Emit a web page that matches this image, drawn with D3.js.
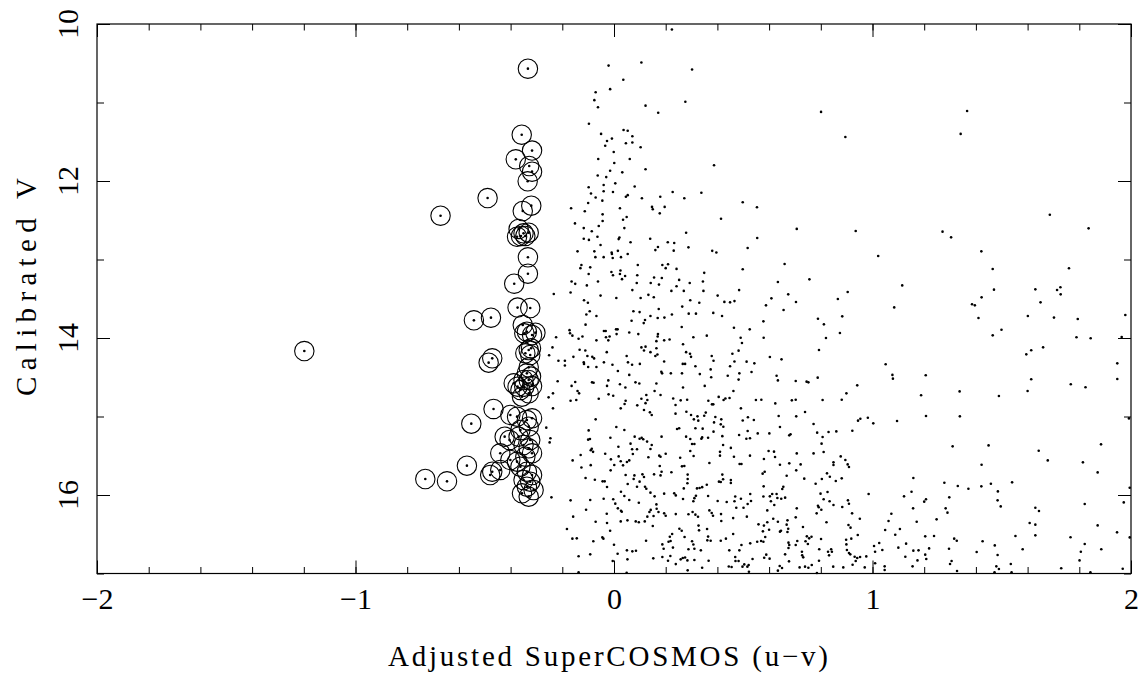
<!DOCTYPE html>
<html>
<head>
<meta charset="utf-8">
<script src="https://cdn.jsdelivr.net/npm/d3@7"></script>
<style>
  body { margin: 0; background: #fff; }
  text { font-family: "Liberation Serif", "DejaVu Serif", serif; fill: #000; }
</style>
</head>
<body>
<script>
// circled stars (blue excess candidates)
const circled = [
  [-0.333,10.569],[-0.357,11.41],[-0.317,11.613],[-0.38,11.724],[-0.328,11.809],[-0.317,11.881],[-0.334,12.004],
  [-0.489,12.217],[-0.671,12.442],[-0.32,12.314],[-0.353,12.382],[-0.369,12.611],[-0.36,12.7],[-0.343,12.7],
  [-0.35,12.667],[-0.33,12.658],[-0.375,12.71],[-0.333,12.972],[-0.333,13.181],[-0.386,13.308],
  [-0.373,13.613],[-0.324,13.618],[-0.542,13.775],[-0.476,13.741],[-0.353,13.834],[-0.347,13.94],[-0.337,13.92],
  [-0.317,13.962],[-0.304,13.932],[-0.33,14.153],[-0.324,14.216],[-0.343,14.195],[-0.321,14.131],
  [-0.471,14.259],[-0.485,14.314],[-0.33,14.374],[-0.337,14.45],[-0.321,14.492],[-0.35,14.535],[-0.33,14.535],
  [-0.388,14.577],[-0.373,14.62],[-0.347,14.62],[-0.317,14.612],[-0.362,14.662],[-0.33,14.705],[-0.356,14.747],
  [-0.466,14.904],[-0.552,15.091],[-0.401,14.98],[-0.375,15.002],[-0.337,15.045],[-0.317,15.023],[-0.33,15.129],
  [-0.362,15.172],[-0.423,15.257],[-0.404,15.299],[-0.369,15.257],[-0.324,15.299],[-0.35,15.363],[-0.33,15.405],
  [-0.44,15.469],[-0.401,15.554],[-0.375,15.575],[-0.343,15.512],[-0.317,15.469],[-0.569,15.626],
  [-0.471,15.703],[-0.479,15.745],[-0.44,15.681],[-0.73,15.796],[-0.646,15.826],
  [-0.362,15.639],[-0.337,15.703],[-0.317,15.745],[-0.35,15.809],[-0.324,15.83],[-0.337,15.894],[-0.311,15.936],
  [-0.356,15.979],[-0.33,16.021],[-1.198,14.166]
];

// all other stars in the field
const field = [
  [0.224,10.07],[-0.021,10.53],[0.106,10.49],[0.302,10.58],[0.036,10.71],[-0.015,10.83],[-0.071,10.87],[-0.076,10.97],
  [-0.062,11.06],[0.122,11.04],[0.276,10.99],[0.171,11.13],[-0.097,11.27],[-0.05,11.40],[0.037,11.35],[0.053,11.36],
  [0.071,11.43],[-0.008,11.46],[-0.027,11.49],[-0.034,11.55],[0.046,11.52],[0.071,11.51],[0.103,11.57],[-0.001,11.63],
  [-0.061,11.72],[0.001,11.77],[0.061,11.72],[0.387,11.80],[-0.015,11.87],[0.032,11.89],[0.122,11.85],[-0.063,11.93],
  [-0.03,11.95],[0.005,12.03],[-0.04,12.05],[0.08,12.07],[-0.098,12.08],[-0.089,12.16],[-0.04,12.13],[-0.004,12.14],
  [0.046,12.20],[0.053,12.18],[-0.071,12.21],[-0.045,12.25],[0.108,12.22],[0.179,12.20],[0.227,12.14],[0.272,12.22],
  [0.338,12.15],[-0.1,12.28],
  [0.801,11.12],[0.895,11.44],[0.498,12.27],[1.366,11.108],[1.341,11.40],
  [-0.166,12.348],[-0.113,12.386],[0.023,12.348],[0.147,12.33],[0.15,12.36],[0.196,12.33],[0.177,12.412],[-0.044,12.425],
  [0.049,12.459],[0.035,12.493],[-0.044,12.51],[-0.151,12.54],[-0.059,12.573],[0.414,12.48],[-0.117,12.60],[-0.086,12.64],
  [0.04,12.60],[0.279,12.66],[-0.117,12.735],[-0.097,12.75],[-0.064,12.71],[0.021,12.72],[0.018,12.74],[0.064,12.78],
  [0.14,12.735],[0.208,12.78],[0.233,12.79],[-0.052,12.815],[0.17,12.84],[0.16,12.88],[0.288,12.845],[0.231,12.887],
  [-0.141,12.896],[-0.076,12.896],[-0.009,12.91],[-0.008,12.93],[0.015,12.89],[0.053,12.93],[-0.072,12.97],[-0.04,12.97],
  [-0.005,12.98],[0.027,12.97],[0.38,12.89],[0.396,12.91],[-0.126,13.07],[-0.13,13.11],[-0.092,13.10],[0.092,13.07],
  [0.187,13.07],[0.209,13.06],[0.2,13.11],[0.242,13.12],[-0.01,13.16],[-0.004,13.20],[0.025,13.14],[0.023,13.185],
  [0.043,13.21],[-0.098,13.185],[0.09,13.20],[0.031,13.25],[0.349,13.17],[-0.164,13.28],[-0.15,13.31],[-0.062,13.28],
  [0.088,13.30],[0.142,13.30],[0.155,13.23],[0.185,13.235],[0.174,13.32],[0.293,13.30],[0.252,13.26],[0.344,13.28],
  [0.242,13.34],[-0.105,13.33],[-0.233,13.44],[-0.168,13.42],[0.071,13.39],[-0.052,13.46],[0.133,13.45],[0.154,13.48],
  [0.103,13.49],[0.222,13.40],[0.27,13.40],[0.346,13.40],[0.401,13.46],[0.484,13.39],[0.009,13.49],[-0.116,13.52],
  [-0.101,13.55],[0.295,13.52],[0.33,13.55],[0.427,13.54],[0.449,13.546],[0.466,13.53],[0.173,13.63],[0.075,13.66],
  [0.099,13.67],[-0.094,13.66],[-0.107,13.70],[0.264,13.60],[0.289,13.69],[0.317,13.69],[0.384,13.68],[0.418,13.72],
  [-0.068,13.72],[0.068,13.78],[0.141,13.72],[0.12,13.77],[0.115,13.81],[0.169,13.745],[0.195,13.74],[0.224,13.70],
  [-0.11,13.83],[0.262,13.86],[0.464,13.87],[-0.172,13.90],[-0.17,13.94],[-0.161,13.97],[-0.224,13.99],[-0.137,14.01],
  [-0.122,13.98],[-0.068,14.03],[-0.039,13.91],[-0.032,13.91],[-0.031,13.99],[-0.022,14.03],[-0.017,13.98],[0.008,13.89],
  [0.014,13.89],[0.01,13.95],[0.059,13.93],[0.094,13.95],[0.17,13.95],[0.169,13.98],[0.194,14.03],[0.215,14.02],
  [0.307,13.99],[0.359,13.97],[-0.238,14.12],[-0.251,14.22],[-0.215,14.29],[-0.19,14.29],[-0.19,14.35],[-0.157,14.24],
  [-0.133,14.15],[-0.111,14.16],[-0.117,14.31],[-0.116,14.33],[-0.103,14.23],[-0.084,14.24],[-0.10,14.37],[-0.077,14.26],
  [-0.068,14.37],[-0.039,14.31],[-0.028,14.18],[-0.006,14.34],[0.015,14.42],[0.049,14.23],[0.054,14.31],[0.07,14.34],
  [0.10,14.33],[0.106,14.12],[0.122,14.11],[0.116,14.16],[0.141,14.18],[0.164,14.13],[0.168,14.21],[0.164,14.04],
  [0.16,14.23],[0.267,14.08],[0.279,14.18],[0.294,14.20],[0.298,14.24],[0.194,14.30],[0.266,14.33],[0.275,14.33],
  [0.315,14.36],[0.378,14.23],[0.385,14.29],[0.374,14.40],[0.458,14.20],[0.466,14.30],[0.449,14.36],[-0.218,14.55],
  [-0.15,14.56],[-0.164,14.61],[-0.085,14.565],[-0.079,14.57],[-0.022,14.54],[-0.027,14.61],[0.023,14.59],[0.044,14.63],
  [0.059,14.47],[0.083,14.565],[0.098,14.58],[0.164,14.58],[0.186,14.45],[0.183,14.43],[0.22,14.45],[0.263,14.45],
  [0.332,14.46],[0.267,14.63],[0.351,14.61],[0.376,14.50],[0.44,14.48],[0.485,14.45],[0.482,14.53],
  [-0.253,14.756],[-0.236,14.705],[-0.236,14.896],[-0.262,15.142],[-0.246,15.278],[-0.249,15.33],[-0.242,16.03],
  [-0.168,14.80],[-0.146,14.79],[-0.141,14.675],[-0.135,14.705],[-0.059,14.773],[-0.021,14.718],[-0.003,14.735],
  [0.026,14.896],[0.045,14.80],[0.041,14.84],[0.09,14.858],[0.106,14.773],[0.125,14.726],[0.129,14.79],[0.122,14.83],
  [0.116,14.917],[0.139,14.947],[0.146,14.98],[0.157,14.675],[0.18,14.726],[0.229,14.77],[0.238,14.854],[0.258,14.794],
  [0.283,14.786],[0.298,14.98],[0.309,15.036],[0.28,14.94],[0.326,15.053],[0.323,14.998],[0.355,14.95],[0.349,14.99],
  [0.238,14.964],[0.365,14.8],[0.379,14.845],[0.384,14.845],[0.405,14.75],[0.424,14.79],[0.431,14.77],[0.447,14.765],
  [0.462,14.675],[0.392,15.007],[0.387,15.075],[0.413,15.10],[0.423,15.13],[0.415,15.036],[0.385,15.193],[-0.071,15.036],
  [-0.098,15.177],[-0.093,15.287],[-0.1,15.295],[0.009,15.134],[-0.014,15.27],[-0.086,15.41],[-0.081,15.45],[-0.09,15.43],
  [-0.129,15.49],[-0.16,15.559],[-0.126,15.65],[-0.09,15.62],[-0.034,15.474],[0.017,15.385],[0.018,15.508],[0.026,15.571],
  [-0.012,15.546],[-0.013,15.686],[0.001,15.618],[0.035,15.622],[0.05,15.58],[0.059,15.559],[0.04,15.172],[0.064,15.346],
  [0.073,15.478],[0.07,15.418],[0.089,15.418],[0.08,15.257],[0.099,15.283],[0.107,15.27],[0.113,15.29],[0.128,15.32],
  [0.146,15.363],[0.141,15.414],[0.133,15.52],[0.184,15.257],[0.175,15.499],[0.18,15.512],[0.2,15.474],[0.177,15.63],
  [0.244,15.16],[0.252,15.15],[0.279,15.257],[0.295,15.287],[0.302,15.35],[0.311,15.35],[0.295,15.44],[0.308,15.503],
  [0.256,15.525],[0.263,15.635],[0.272,15.63],[0.315,15.15],[0.343,15.155],[0.341,15.266],[0.338,15.283],[0.364,15.27],
  [0.419,15.25],[0.422,15.363],[0.41,15.45],[0.41,15.499],[0.452,15.40],[0.464,15.512],[0.484,15.236],[0.486,15.605],
  [0.369,15.593],[0.419,15.74],[0.422,15.80],[0.413,15.835],[0.406,15.83],[0.452,15.81],[0.452,15.847],[0.285,15.74],
  [0.285,15.796],[0.284,15.85],[0.222,15.71],[0.155,15.737],[0.184,15.703],[0.18,15.75],[0.11,15.737],[0.116,15.77],
  [0.079,15.75],[0.076,15.796],[0.099,15.83],[0.045,15.745],[0.053,15.86],[-0.11,15.784],[-0.074,15.805],[-0.044,15.826],
  [-0.036,15.826],[-0.027,15.898],[-0.04,16.047],[-0.003,16.055],[0.027,15.958],[0.005,16.11],[0.015,16.17],[0.027,16.2],
  [0.04,16.013],[0.059,16.064],[0.089,15.894],[0.12,15.894],[0.125,15.92],[0.096,16.098],[0.141,15.97],[0.157,16.017],
  [0.164,16.12],[0.165,16.175],[0.172,16.217],[0.137,16.217],[0.142,16.19],[0.153,16.268],[0.194,15.983],[0.194,16.234],
  [0.2,16.264],[0.233,15.979],[0.239,16.005],[0.27,15.916],[0.267,16.05],[0.307,16.08],[0.311,16.04],[0.317,16.01],
  [0.321,15.916],[0.331,15.91],[0.341,15.9],[0.359,15.87],[0.364,16.013],[0.401,16.077],[0.436,16.09],[0.469,16.02],
  [0.466,16.08],[0.239,16.243],[0.288,16.246],[0.304,16.217],[0.315,16.25],[0.325,16.277],[0.369,16.196],[0.378,16.23],
  [0.383,16.264],[0.414,16.243],[0.415,16.332],[0.461,16.294],[0.473,16.162],[-0.168,16.068],[-0.092,16.064],
  [-0.108,16.187],[-0.158,16.276],[-0.071,16.34],[-0.028,16.238],[-0.027,16.357],[-0.015,16.455],[0.03,16.213],
  [0.026,16.336],[0.052,16.323],[0.084,16.336],[0.096,16.348],[0.119,16.336],[0.129,16.276],[0.15,16.395],[-0.182,16.433],
  [-0.161,16.556],[-0.144,16.552],[-0.08,16.59],[-0.045,16.54],[-0.041,16.556],[0,16.633],[-0.092,16.756],[-0.137,16.78],
  [0.014,16.748],[-0.005,16.84],[0.05,16.705],[0.052,16.82],[0.071,16.718],[0.085,16.71],[0.124,16.582],[0.152,16.807],
  [0.187,16.629],[0.192,16.684],[0.211,16.595],[0.219,16.586],[0.216,16.531],[0.225,16.497],[0.253,16.43],[0.262,16.455],
  [0.273,16.535],[0.228,16.67],[0.187,16.79],[0.209,16.837],[0.218,16.777],[0.258,16.82],[0.266,16.803],[0.275,16.797],
  [0.284,16.833],[0.239,16.88],[0.288,16.692],[0.302,16.59],[0.307,16.63],[0.311,16.684],[0.311,16.828],[0.327,16.39],
  [0.329,16.45],[0.36,16.433],[0.364,16.53],[0.361,16.578],[0.374,16.582],[0.336,16.705],[0.341,16.926],[0.285,16.96],
  [0.366,16.837],[0.433,16.556],[0.413,16.582],[0.461,16.497],[0.446,16.705],[0.469,16.79],[0.47,16.84],[0.444,16.91],
  [0.455,16.917],[0.482,16.84],[0.485,16.705],[-0.137,16.985],[0.049,16.99],
  [0.553,12.335],[0.707,12.61],[0.935,12.637],[0.554,12.726],[0.517,12.854],[1.022,12.955],[0.66,13.057],[0.498,13.125],
  [0.634,13.286],[0.756,13.253],[1.115,13.33],[0.904,13.414],[0.674,13.444],[0.609,13.495],[0.704,13.541],[0.866,13.503],
  [0.588,13.584],[0.656,13.643],[1.084,13.61],[0.883,13.724],[0.789,13.754],[0.578,13.788],[0.812,13.826],[0.525,13.89],
  [0.49,13.996],[0.495,14.064],[0.579,13.996],[0.82,14.0],[0.874,13.936],[0.482,14.161],[0.793,14.153],[0.603,14.242],
  [0.648,14.272],[0.513,14.301],[0.543,14.323],[1.051,14.335],[0.532,14.433],[0.629,14.48],[0.634,14.54],[0.703,14.548],
  [0.745,14.556],[0.752,14.565],[0.788,14.505],[0.941,14.603],[1.077,14.47],[1.079,14.518],[1.206,14.475],
  [0.899,14.705],[1.188,14.73],[0.549,14.79],[0.57,14.786],[0.624,14.833],[0.688,14.794],[0.703,14.786],[0.807,14.79],
  [0.881,14.786],[0.491,14.896],[0.739,14.943],[0.705,14.998],[0.637,14.994],[0.518,15.01],[0.498,15.05],[0.541,15.045],
  [1.207,14.994],[0.944,15.053],[0.953,15.028],[0.982,15.015],[1.003,15.087],[1.095,15.058],[0.772,15.096],[0.642,15.134],
  [0.517,15.185],[0.556,15.215],[0.601,15.215],[0.678,15.24],[0.683,15.227],[0.786,15.206],[0.807,15.261],[0.803,15.346],
  [0.83,15.198],[0.86,15.19],[0.922,15.181],[0.512,15.283],[0.526,15.278],[0.811,15.453],[0.772,15.47],[0.707,15.47],
  [0.598,15.44],[0.619,15.448],[0.623,15.516],[0.526,15.499],[0.58,15.541],[0.493,15.605],[0.642,15.614],[0.678,15.597],
  [0.722,15.61],[0.705,15.686],[0.668,15.754],[0.575,15.728],[0.583,15.703],[0.849,15.584],[0.849,15.618],[0.877,15.508],
  [0.895,15.554],[0.904,15.61],[0.909,15.644],[0.824,15.724],[0.835,15.767],[0.881,15.788],[0.858,15.822],[0.736,15.792],
  [0.78,15.856],[0.804,15.797],[0.579,15.89],[0.655,15.894],[0.651,15.924],[0.603,16.017],[0.612,15.987],[0.629,15.987],
  [0.632,16.038],[0.578,16.02],[0.527,15.987],[0.53,16.077],[0.491,16.047],[0.517,16.115],[0.501,16.162],[0.647,16.047],
  [0.662,16.034],[0.607,16.08],[0.62,16.128],[0.799,15.983],[0.826,15.962],[0.811,16.055],[0.834,16.08],[0.849,16.128],
  [0.789,16.136],[0.792,16.157],[0.784,16.234],[0.802,16.187],[0.707,16.17],[0.703,16.285],[0.593,16.196],[0.514,16.276],
  [0.985,15.987],[1.122,16.017],[1.151,15.958],[1.158,15.784],[1.157,16.17],[1.2,16.085],[1.207,16.055],[0.905,16.068],
  [0.909,16.111],[0.883,16.153],[0.921,16.234],[0.951,16.302],[0.822,16.348],[0.671,16.323],[0.668,16.378],[0.674,16.43],
  [0.671,16.472],[0.646,16.455],[0.642,16.467],[0.616,16.302],[0.634,16.34],[0.559,16.374],[0.58,16.39],[0.576,16.463],
  [0.593,16.348],[0.6,16.442],[0.585,16.535],[0.731,16.408],[0.907,16.382],[0.915,16.416],[0.943,16.51],[0.918,16.556],
  [0.898,16.57],[1.062,16.332],[1.073,16.238],[1.049,16.446],[1.106,16.433],[1.088,16.506],[1.171,16.34],[1.238,16.523],
  [1.204,16.527],[0.578,16.595],[0.554,16.595],[0.569,16.586],[0.527,16.616],[0.493,16.637],[0.675,16.607],[0.678,16.637],
  [0.675,16.675],[0.709,16.586],[0.703,16.637],[0.741,16.59],[0.746,16.527],[0.755,16.552],[0.764,16.531],[0.75,16.625],
  [0.801,16.561],[0.727,16.722],[0.728,16.769],[0.732,16.794],[0.662,16.756],[0.589,16.76],[0.602,16.811],[0.581,16.799],
  [0.536,16.815],[0.504,16.884],[0.516,16.913],[0.521,16.892],[0.497,16.913],[0.522,16.977],[0.641,16.905],[0.65,16.93],
  [0.634,16.964],[0.677,16.845],[0.718,16.922],[0.739,16.913],[0.752,16.926],[0.765,16.892],[0.785,16.994],[0.793,16.837],
  [0.794,16.692],[0.828,16.722],[0.84,16.692],[0.843,16.722],[0.832,16.769],[0.848,16.913],[0.887,16.922],[0.899,16.629],
  [0.901,16.701],[0.909,16.739],[0.914,16.756],[0.931,16.786],[0.935,16.841],[0.941,16.803],[0.952,16.79],[0.923,16.888],
  [0.976,16.782],[0.97,16.922],[1.006,16.65],[1.01,16.722],[1.01,16.87],[1.026,16.612],[1.038,16.701],[1.047,16.909],
  [1.047,16.956],[1.1,16.671],[1.13,16.62],[1.127,16.786],[1.158,16.709],[1.155,16.909],[1.174,16.833],[1.178,16.705],
  [1.204,16.76],[1.208,16.815],[1.219,16.68],
  [1.686,12.429],[1.836,12.603],[1.271,12.645],[1.304,12.718],[1.421,12.896],[1.465,13.121],[1.76,13.112],[1.47,13.384],
  [1.63,13.38],[1.714,13.389],[1.727,13.354],[1.728,13.444],[1.422,13.482],[1.65,13.546],[1.385,13.571],[1.396,13.584],
  [1.41,13.745],[1.601,13.72],[1.702,13.74],[1.794,13.758],[1.978,13.707],[1.499,13.894],[1.465,13.966],[1.789,13.991],
  [1.844,14.004],[1.964,13.987],[1.66,14.119],[1.595,14.208],[1.614,14.157],[1.947,14.323],[1.614,14.526],[1.767,14.59],
  [1.824,14.628],[1.947,14.522],
  [1.337,14.68],[1.489,14.739],[1.6,14.675],[1.338,14.998],[1.992,15.024],[1.31,15.38],[1.449,15.368],[1.643,15.436],
  [1.678,15.559],[1.884,15.355],[1.814,15.584],[1.871,15.712],[1.422,15.614],[1.278,15.843],[1.33,15.886],[1.371,15.92],
  [1.421,15.89],[1.458,15.856],[1.54,15.839],[1.485,15.954],[1.995,15.907],[1.297,16.03],[1.484,16.068],[1.496,16.145],
  [1.283,16.17],[1.29,16.225],[1.63,16.162],[1.644,16.204],[1.821,16.115],[1.972,16.094],[1.248,16.31],[1.608,16.357],
  [1.63,16.378],[1.871,16.387],[1.316,16.556],[1.326,16.582],[1.426,16.59],[1.553,16.523],[1.63,16.514],[1.766,16.539],
  [1.946,16.476],[1.995,16.54],[1.296,16.684],[1.403,16.726],[1.473,16.642],[1.484,16.765],[1.581,16.692],[1.821,16.624],
  [1.806,16.722],[1.885,16.692],[1.306,16.841],[1.3,16.879],[1.479,16.909],[1.489,16.943],[1.472,16.985],[1.535,16.879],
  [1.538,16.985],[1.327,16.968],[1.73,16.934],[1.801,16.833],[1.843,16.985],[1.968,16.939]
];

const xMajor = [-2, -1, 0, 1, 2];
const xMinor = d3.range(-2, 2.001, 0.2).map(v => +v.toFixed(1));
const yMajor = [10, 12, 14, 16];
const yMinor = [11, 13, 15, 17];

const W = 1144, H = 675;
const padL = 97, padR = 1131, padT = 24, padB = 573.5;

const svg = d3.select("body").append("svg")
  .attr("width", W)
  .attr("height", H);

const x = d3.scaleLinear().domain([-2, 2]).range([padL, padR]);
const y = d3.scaleLinear().domain([10, 17]).range([padT, padB]);

// ticks on all four sides, pointing inward
const addAxis = (axis, tx, ty) => {
  const g = svg.append("g")
    .attr("transform", `translate(${tx},${ty})`)
    .call(axis);
  g.select(".domain").remove();
  g.selectAll("line").attr("stroke", "#000").attr("stroke-width", 1);
  g.attr("font-family", null).attr("font-size", null);
  return g;
};

addAxis(d3.axisBottom(x).tickValues(xMinor).tickSize(-6.5).tickFormat(""), 0, padB);
addAxis(d3.axisTop(x).tickValues(xMinor).tickSize(-6.5).tickFormat(""), 0, padT);
addAxis(d3.axisLeft(y).tickValues(yMinor).tickSize(-7).tickFormat(""), padL, 0);
addAxis(d3.axisRight(y).tickValues(yMinor).tickSize(-7).tickFormat(""), padR, 0);

const xb = addAxis(d3.axisBottom(x).tickValues(xMajor).tickSize(-13).tickPadding(14)
  .tickFormat(d3.format("d")), 0, padB);
xb.selectAll("text").style("font-size", "30px");
addAxis(d3.axisTop(x).tickValues(xMajor).tickSize(-13).tickFormat(""), 0, padT);
addAxis(d3.axisLeft(y).tickValues(yMajor).tickSize(-13).tickFormat(""), padL, 0);
addAxis(d3.axisRight(y).tickValues(yMajor).tickSize(-13).tickFormat(""), padR, 0);

// rotated y tick labels
svg.append("g").selectAll("text")
  .data(yMajor)
  .enter()
  .append("text")
  .attr("x", 78)
  .attr("y", d => y(d))
  .attr("transform", d => `rotate(-90, 78, ${y(d)})`)
  .attr("text-anchor", "middle")
  .style("font-size", "30px")
  .text(d => d);

svg.append("rect")
  .attr("x", padL).attr("y", padT)
  .attr("width", padR - padL).attr("height", padB - padT)
  .attr("fill", "none").attr("stroke", "#000").attr("stroke-width", 1.2);

// axis titles
svg.append("text")
  .attr("x", 608).attr("y", 666)
  .attr("text-anchor", "middle")
  .attr("textLength", 440).attr("lengthAdjust", "spacing")
  .style("font-size", "29px")
  .text("Adjusted SuperCOSMOS (u\u2212v)");

svg.append("text")
  .attr("x", 36).attr("y", 287)
  .attr("transform", "rotate(-90, 36, 287)")
  .attr("text-anchor", "middle")
  .attr("textLength", 218).attr("lengthAdjust", "spacing")
  .style("font-size", "29px")
  .text("Calibrated V");

const plot = svg.append("g");

plot.selectAll("circle.ring")
  .data(circled)
  .enter()
  .append("circle")
  .attr("class", "ring")
  .attr("cx", d => x(d[0]))
  .attr("cy", d => y(d[1]))
  .attr("r", 9.7)
  .attr("fill", "none")
  .attr("stroke", "#000")
  .attr("stroke-width", 1.1);

plot.selectAll("circle.dot")
  .data(field.concat(circled))
  .enter()
  .append("circle")
  .attr("class", "dot")
  .attr("cx", d => x(d[0]))
  .attr("cy", d => y(d[1]))
  .attr("r", 1.3)
  .attr("fill", "#000");
</script>
</body>
</html>
